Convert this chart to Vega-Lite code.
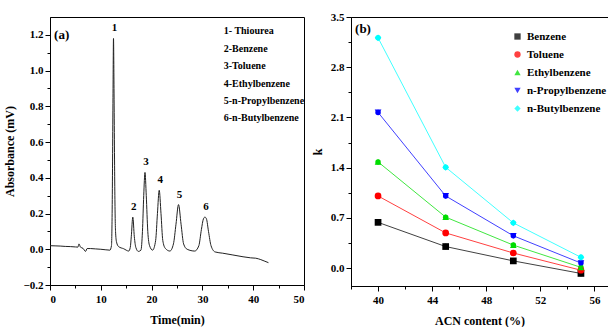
{
  "$schema": "https://vega.github.io/schema/vega-lite/v6.json",
  "padding": {"left": 3, "top": 10, "right": 0, "bottom": 0},
  "background": "white",
  "spacing": 5,
  "config": {
    "font": "Liberation Serif",
    "view": {"stroke": "black", "strokeWidth": 1},
    "axis": {
      "labelFont": "Liberation Serif", "labelFontWeight": "bold", "labelFontSize": 11, "labelColor": "black",
      "titleFont": "Liberation Serif", "titleFontWeight": "bold", "titleFontSize": 12, "titleColor": "black",
      "domainColor": "black", "tickColor": "black", "grid": false, "labelOverlap": false
    }
  },
  "hconcat": [
    {
      "width": 254, "height": 268,
      "encoding": {
        "x": {"field": "t", "type": "quantitative", "title": "Time(min)",
              "scale": {"domain": [0, 50], "nice": false},
              "axis": {"values": [0, 5, 10, 15, 20, 25, 30, 35, 40, 45, 50], "labelExpr": "datum.value % 10 === 0 ? datum.label : ''",
                       "tickSize": {"condition": {"test": "datum.value % 10 === 0", "value": 5}, "value": 3},
                       "labelOverlap": false, "titlePadding": 10, "labelPadding": 3}},
        "y": {"field": "a", "type": "quantitative", "title": "Absorbance (mV)",
              "scale": {"domain": [-0.2, 1.3], "nice": false, "zero": false},
              "axis": {"values": [-0.2, -0.1, 0, 0.1, 0.2, 0.3, 0.4, 0.5, 0.6, 0.7, 0.8, 0.9, 1.0, 1.1, 1.2], "format": ".1f",
                       "labelExpr": "abs(datum.value*5 - round(datum.value*5)) < 0.01 ? datum.label : ''",
                       "tickSize": {"condition": {"test": "abs(datum.value*5 - round(datum.value*5)) < 0.01", "value": 5}, "value": 3},
                       "labelOverlap": false, "titlePadding": 6}}
      },
      "layer": [
        {
          "data": {"values": [
            {"t": 0, "a": 0.020}, {"t": 1, "a": 0.019}, {"t": 2, "a": 0.018}, {"t": 3, "a": 0.016}, {"t": 4, "a": 0.015},
            {"t": 5, "a": 0.013}, {"t": 5.5, "a": 0.012}, {"t": 5.7, "a": 0.030}, {"t": 6.0, "a": 0.012}, {"t": 6.5, "a": 0.005},
            {"t": 7.0, "a": -0.012}, {"t": 7.3, "a": 0.004}, {"t": 8, "a": 0.004}, {"t": 9, "a": 0.002}, {"t": 10, "a": 0.000},
            {"t": 11, "a": -0.003}, {"t": 11.8, "a": -0.005}, {"t": 12.1, "a": 0.02}, {"t": 12.25, "a": 0.25}, {"t": 12.4, "a": 0.85},
            {"t": 12.5, "a": 1.18}, {"t": 12.6, "a": 0.9}, {"t": 12.75, "a": 0.35}, {"t": 12.9, "a": 0.1}, {"t": 13.1, "a": 0.04},
            {"t": 13.5, "a": 0.015}, {"t": 14.5, "a": 0.003}, {"t": 15.5, "a": -0.01}, {"t": 15.8, "a": 0.01}, {"t": 16.0, "a": 0.07},
            {"t": 16.3, "a": 0.18}, {"t": 16.6, "a": 0.07}, {"t": 16.9, "a": 0.01}, {"t": 17.4, "a": -0.012}, {"t": 17.9, "a": -0.005},
            {"t": 18.2, "a": 0.1}, {"t": 18.45, "a": 0.3}, {"t": 18.7, "a": 0.43}, {"t": 18.95, "a": 0.3}, {"t": 19.25, "a": 0.1},
            {"t": 19.6, "a": 0.02}, {"t": 20.2, "a": -0.005}, {"t": 20.8, "a": 0.05}, {"t": 21.15, "a": 0.2}, {"t": 21.5, "a": 0.33},
            {"t": 21.85, "a": 0.2}, {"t": 22.2, "a": 0.05}, {"t": 22.7, "a": 0.005}, {"t": 23.6, "a": -0.01}, {"t": 24.3, "a": 0.03},
            {"t": 24.8, "a": 0.14}, {"t": 25.3, "a": 0.25}, {"t": 25.8, "a": 0.14}, {"t": 26.3, "a": 0.03}, {"t": 27, "a": 0.0},
            {"t": 28.5, "a": -0.01}, {"t": 29.3, "a": 0.02}, {"t": 29.8, "a": 0.11}, {"t": 30.2, "a": 0.17}, {"t": 30.5, "a": 0.18},
            {"t": 30.8, "a": 0.17}, {"t": 31.2, "a": 0.1}, {"t": 31.7, "a": 0.02}, {"t": 32.5, "a": -0.015}, {"t": 34, "a": -0.022},
            {"t": 36, "a": -0.032}, {"t": 38, "a": -0.042}, {"t": 39.5, "a": -0.048}, {"t": 40.5, "a": -0.05}, {"t": 41.5, "a": -0.058},
            {"t": 42.3, "a": -0.067}, {"t": 43, "a": -0.075}
          ]},
          "mark": {"type": "line", "color": "#222222", "strokeWidth": 1, "interpolate": "monotone", "clip": true}
        },
        {
          "data": {"values": [
            {"t": 12.5, "a": 1.18, "lab": "1"}, {"t": 16.3, "a": 0.18, "lab": "2"}, {"t": 18.7, "a": 0.43, "lab": "3"},
            {"t": 21.5, "a": 0.33, "lab": "4"}, {"t": 25.3, "a": 0.25, "lab": "5"}, {"t": 30.5, "a": 0.18, "lab": "6"}
          ]},
          "mark": {"type": "text", "fontWeight": "bold", "fontSize": 11, "dy": -10, "dx": 1, "color": "black"},
          "encoding": {"text": {"field": "lab"}}
        },
        {
          "data": {"values": [
            {"t": 34.2, "a": 1.22, "lab": "1- Thiourea"}, {"t": 34.2, "a": 1.122, "lab": "2-Benzene"},
            {"t": 34.2, "a": 1.025, "lab": "3-Toluene"}, {"t": 34.2, "a": 0.927, "lab": "4-Ethylbenzene"},
            {"t": 34.2, "a": 0.83, "lab": "5-n-Propylbenzene"}, {"t": 34.2, "a": 0.732, "lab": "6-n-Butylbenzene"}
          ]},
          "mark": {"type": "text", "fontWeight": "bold", "fontSize": 10, "align": "left", "color": "black", "font": "Liberation Serif", "clip": true},
          "encoding": {"text": {"field": "lab"}}
        },
        {
          "data": {"values": [{"t": 0.8, "a": 1.2, "lab": "(a)"}]},
          "mark": {"type": "text", "fontWeight": "bold", "fontSize": 13, "align": "left", "color": "black"},
          "encoding": {"text": {"field": "lab"}}
        }
      ]
    },
    {
      "width": 257, "height": 269,
      "data": {"values": [
        {"acn": 40, "k": 0.637, "s": "Benzene"}, {"acn": 45, "k": 0.30, "s": "Benzene"}, {"acn": 50, "k": 0.10, "s": "Benzene"}, {"acn": 55, "k": -0.075, "s": "Benzene"},
        {"acn": 40, "k": 1.005, "s": "Toluene"}, {"acn": 45, "k": 0.49, "s": "Toluene"}, {"acn": 50, "k": 0.21, "s": "Toluene"}, {"acn": 55, "k": -0.03, "s": "Toluene"},
        {"acn": 40, "k": 1.48, "s": "Ethylbenzene"}, {"acn": 45, "k": 0.71, "s": "Ethylbenzene"}, {"acn": 50, "k": 0.32, "s": "Ethylbenzene"}, {"acn": 55, "k": 0.01, "s": "Ethylbenzene"},
        {"acn": 40, "k": 2.17, "s": "n-Propylbenzene"}, {"acn": 45, "k": 1.005, "s": "n-Propylbenzene"}, {"acn": 50, "k": 0.45, "s": "n-Propylbenzene"}, {"acn": 55, "k": 0.07, "s": "n-Propylbenzene"},
        {"acn": 40, "k": 3.21, "s": "n-Butylbenzene"}, {"acn": 45, "k": 1.405, "s": "n-Butylbenzene"}, {"acn": 50, "k": 0.63, "s": "n-Butylbenzene"}, {"acn": 55, "k": 0.15, "s": "n-Butylbenzene"}
      ]},
      "encoding": {
        "x": {"field": "acn", "type": "quantitative", "title": "ACN content (%)",
              "scale": {"domain": [38, 57], "nice": false, "zero": false},
              "axis": {"values": [38, 40, 42, 44, 46, 48, 50, 52, 54, 56], "labelExpr": "datum.value % 4 === 0 ? datum.label : ''",
                       "tickSize": {"condition": {"test": "datum.value % 4 === 0", "value": 5}, "value": 3},
                       "labelOverlap": false, "titlePadding": 10, "labelPadding": 3}},
        "y": {"field": "k", "type": "quantitative", "title": "k",
              "scale": {"domain": [-0.25, 3.5], "nice": false, "zero": false},
              "axis": {"values": [0, 0.35, 0.7, 1.05, 1.4, 1.75, 2.1, 2.45, 2.8, 3.15, 3.5], "format": ".1f",
                       "labelExpr": "abs(datum.value/0.7 - round(datum.value/0.7)) < 0.01 ? datum.label : ''",
                       "tickSize": {"condition": {"test": "abs(datum.value/0.7 - round(datum.value/0.7)) < 0.01", "value": 5}, "value": 3},
                       "labelOverlap": false, "titlePadding": 6}},
        "color": {"field": "s", "type": "nominal",
                  "scale": {"domain": ["Benzene", "Toluene", "Ethylbenzene", "n-Propylbenzene", "n-Butylbenzene"],
                            "range": ["#000000", "#ff0000", "#00dd00", "#0000ff", "#00ffff"]},
                  "legend": {"orient": "none", "legendX": 462, "legendY": 14, "title": null,
                             "labelFont": "Liberation Serif", "labelFontWeight": "bold", "labelFontSize": 11, "labelColor": "black",
                             "rowPadding": 6, "symbolSize": 40, "symbolStrokeWidth": 0, "padding": 0}},
        "shape": {"field": "s", "type": "nominal",
                  "scale": {"domain": ["Benzene", "Toluene", "Ethylbenzene", "n-Propylbenzene", "n-Butylbenzene"],
                            "range": ["square", "circle", "triangle-up", "triangle-down", "diamond"]},
                  "legend": {"orient": "none", "legendX": 462, "legendY": 14, "title": null}}
      },
      "layer": [
        {"mark": {"type": "line", "strokeWidth": 1, "opacity": 0.75}, "encoding": {"shape": {"value": "circle"}}},
        {"mark": {"type": "point", "filled": true, "size": 45, "opacity": 1}},
        {
          "data": {"values": [{"acn": 38.3, "k": 3.33, "lab": "(b)"}]},
          "mark": {"type": "text", "fontWeight": "bold", "fontSize": 13, "align": "left", "color": "black"},
          "encoding": {
            "text": {"field": "lab"},
            "color": {"value": "black"},
            "shape": {"value": "circle"}
          }
        }
      ]
    }
  ]
}
